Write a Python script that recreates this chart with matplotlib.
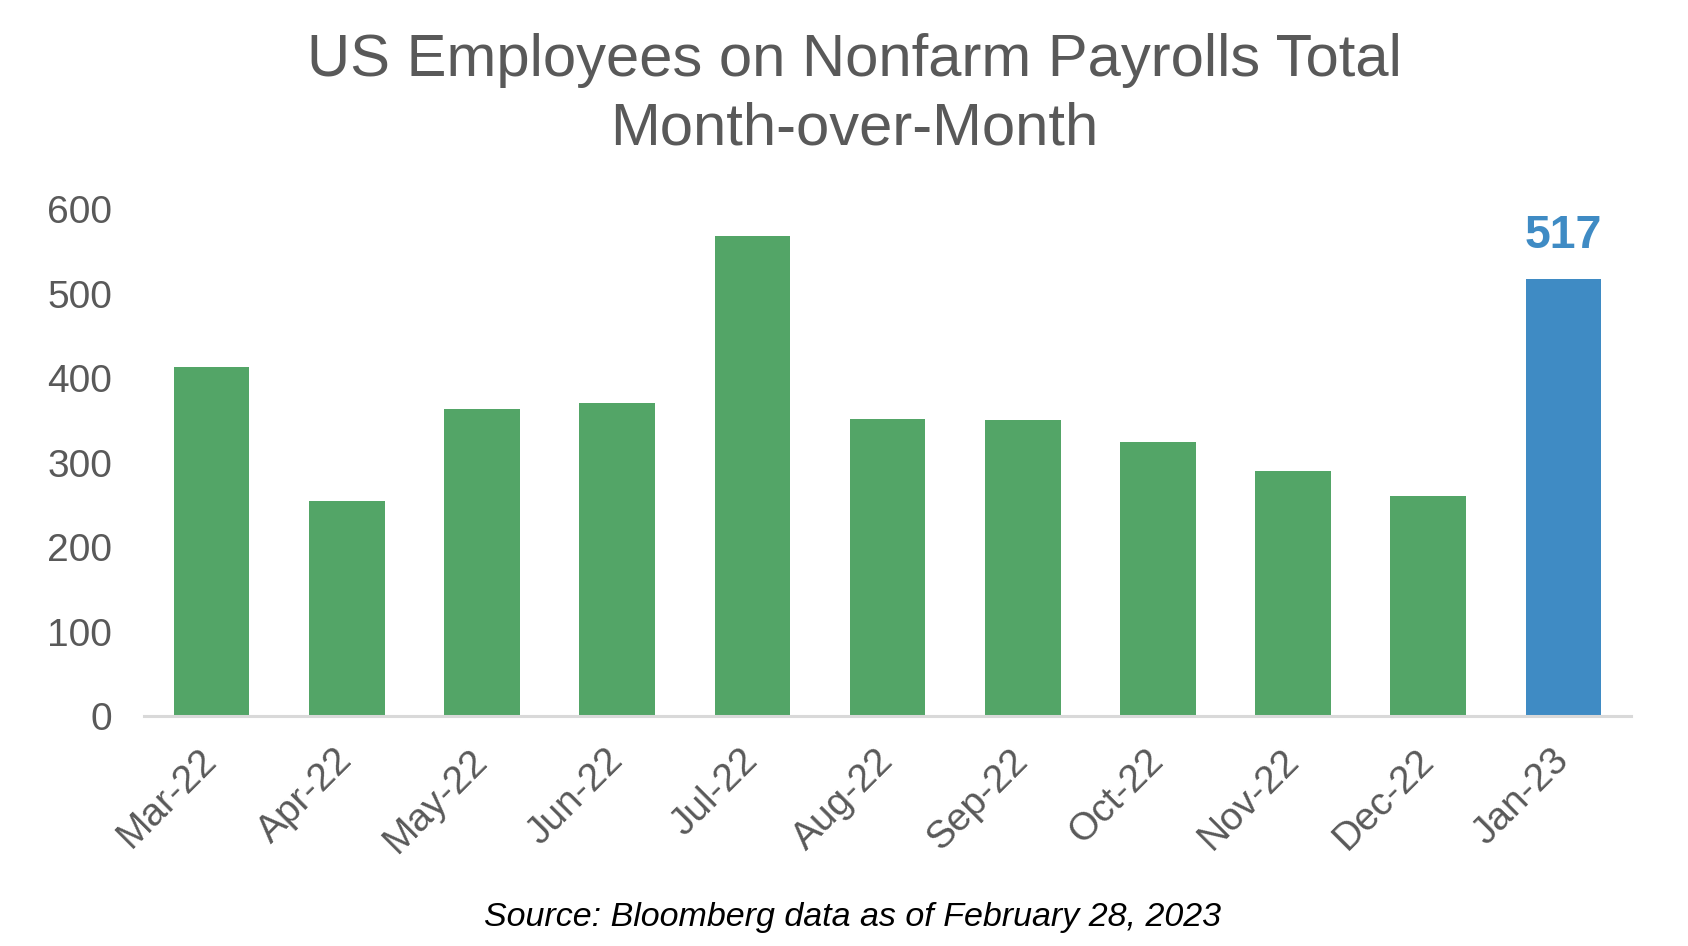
import matplotlib.pyplot as plt
import numpy as np

plt.rcParams['font.family'] = ['Liberation Sans', 'DejaVu Sans']

months = ["Mar-22", "Apr-22", "May-22", "Jun-22", "Jul-22", "Aug-22",
          "Sep-22", "Oct-22", "Nov-22", "Dec-22", "Jan-23"]
payrolls = [413, 254, 364, 370, 568, 352, 350, 324, 290, 260, 517]
yticks = [0, 100, 200, 300, 400, 500, 600]

green = '#53A567'
blue = '#3F8BC4'
grey = '#595959'

fig = plt.figure(figsize=(16.88, 9.46), dpi=100)
ax = fig.add_axes([0.0853, 0.243, 0.881, 0.536])

x = np.arange(len(months))
colors = [green] * (len(months) - 1) + [blue]
ax.bar(x, payrolls, width=0.56, color=colors, zorder=2)

# highlight the latest month
ax.annotate(str(payrolls[-1]), (x[-1], payrolls[-1]), xytext=(0, 15),
            textcoords='offset points', ha='center', va='bottom',
            fontsize=33.5, fontweight='bold', color=blue, annotation_clip=False)

ax.set_xlim(-0.5, len(months) - 0.5)
ax.set_ylim(0, 600)
ax.set_yticks(yticks)
ax.set_yticklabels([str(v) for v in yticks], fontsize=28, color=grey)
ax.set_xticks(x)
ax.set_xticklabels(months, fontsize=28, color=grey, rotation=45,
                   ha='right', va='center', rotation_mode='anchor')
ax.tick_params(axis='y', length=0, pad=23)
ax.tick_params(axis='x', length=0, pad=28)

for side in ['top', 'right', 'left']:
    ax.spines[side].set_visible(False)
ax.spines['bottom'].set_color('#D9D9D9')
ax.spines['bottom'].set_linewidth(2.2)
ax.spines['bottom'].set_zorder(3)

fig.text(0.506, 0.90, "US Employees on Nonfarm Payrolls Total\nMonth-over-Month",
         ha='center', va='center', fontsize=43, color=grey, linespacing=1.3)
fig.text(0.505, 0.030, "Source: Bloomberg data as of February 28, 2023",
         ha='center', va='center', fontsize=24.5, style='italic', color='black')

fig.savefig('out.png', dpi=100)
